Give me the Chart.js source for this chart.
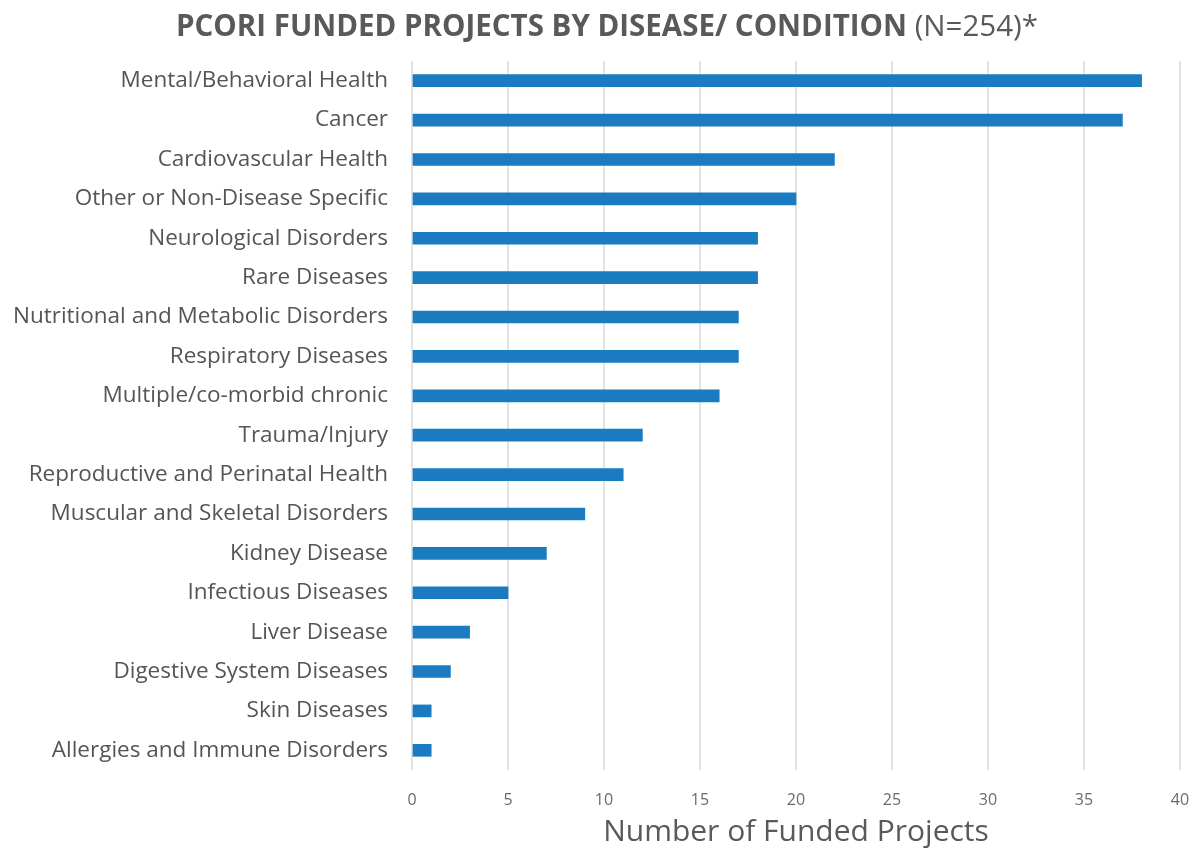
<!DOCTYPE html>
<html>
<head>
<meta charset="utf-8">
<script src="https://cdn.jsdelivr.net/npm/chart.js@4"></script>
<style>
  html, body { margin: 0; padding: 0; background: #fff; }
  #wrap { width: 1196px; height: 850px; }
</style>
</head>
<body>
<div id="wrap"><canvas id="diseaseChart" width="1196" height="850"></canvas></div>
<script>
const categories = [
  "Mental/Behavioral Health", "Cancer", "Cardiovascular Health",
  "Other or Non-Disease Specific", "Neurological Disorders", "Rare Diseases",
  "Nutritional and Metabolic Disorders", "Respiratory Diseases",
  "Multiple/co-morbid chronic", "Trauma/Injury",
  "Reproductive and Perinatal Health", "Muscular and Skeletal Disorders",
  "Kidney Disease", "Infectious Diseases", "Liver Disease",
  "Digestive System Diseases", "Skin Diseases", "Allergies and Immune Disorders"
];
const projects = [38, 37, 22, 20, 18, 18, 17, 17, 16, 12, 11, 9, 7, 5, 3, 2, 1, 1];
const xTicks = [0, 5, 10, 15, 20, 25, 30, 35, 40];

const titleBold = "PCORI FUNDED PROJECTS BY DISEASE/ CONDITION";
const titleRest = " (N=254)*";

// two-weight title, drawn on the canvas
const titlePlugin = {
  id: "twoPartTitle",
  afterDraw(chart) {
    const c = chart.ctx;
    c.save();
    c.textBaseline = "middle";
    c.textAlign = "left";
    c.fillStyle = "#595959";
    c.font = "bold 29.5px 'Open Sans'";
    const w1 = c.measureText(titleBold).width;
    c.font = "29.5px 'Open Sans'";
    const w2 = c.measureText(titleRest).width;
    const x = 607 - (w1 + w2) / 2;
    c.font = "bold 29.5px 'Open Sans'";
    c.fillText(titleBold, x, 28);
    c.font = "29.5px 'Open Sans'";
    c.fillText(titleRest, x + w1, 28);
    c.restore();
  },
};

const ctx = document.getElementById("diseaseChart").getContext("2d");
const chart = new Chart(ctx, {
  type: "bar",
  data: {
    labels: categories,
    datasets: [{
      data: projects,
      backgroundColor: "#1a7bc0",
      barThickness: 12,
    }],
  },
  plugins: [titlePlugin],
  options: {
    indexAxis: "y",
    responsive: false,
    animation: false,
    layout: { padding: { top: 61, right: 16, left: 0, bottom: 0 } },
    plugins: {
      legend: { display: false },
      tooltip: { enabled: false },
    },
    scales: {
      x: {
        min: 0,
        max: 40,
        afterBuildTicks: (scale) => {
          scale.ticks = xTicks.map((v) => ({ value: v }));
        },
        afterFit: (scale) => {
          scale.height = 80;
          scale.paddingRight = 0;
        },
        grid: { color: "#e3e3e3", lineWidth: 2, drawTicks: false },
        border: { display: false },
        ticks: {
          padding: 21,
          color: "#6b6b6b",
          font: { family: "Open Sans", size: 16 },
        },
        title: {
          display: true,
          text: "Number of Funded Projects",
          color: "#595959",
          font: { family: "Open Sans", size: 30 },
          padding: { top: 0, bottom: 0 },
        },
      },
      y: {
        afterFit: (scale) => { scale.width = 412; },
        grid: { display: false, drawTicks: false },
        border: { display: false },
        ticks: {
          padding: 24,
          color: "#555555",
          font: { family: "Open Sans", size: 22.5 },
        },
      },
    },
  },
});
</script>
</body>
</html>
